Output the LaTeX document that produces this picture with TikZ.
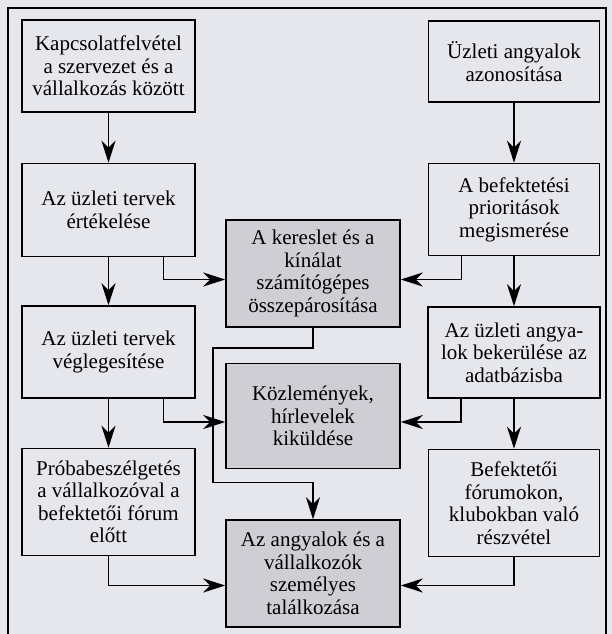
\documentclass[tikz,border=0pt]{standalone}
\usepackage{fontspec}
\setmainfont{Liberation Serif}
\usetikzlibrary{arrows.meta,positioning}
\tikzset{every picture/.style={/utils/exec={\fontsize{10.5}{11.25}\selectfont}}}
\definecolor{paper}{RGB}{230,230,237}
\definecolor{shade}{RGB}{206,206,212}

\begin{document}
\begin{tikzpicture}[node distance=25pt, line width=0.75pt]
  \tikzstyle{task} = [rectangle, minimum width=86.5pt, minimum height=46pt, text centered, align=center, draw=black]
  \tikzstyle{shaded} = [task, fill=shade, minimum width=87pt, minimum height=53.5pt]

  \tikzstyle{arrow} = [-{Stealth[length=11pt,width=7pt,inset=3.5pt]}]

  \fill [paper] (0,0) rectangle (306pt,-317pt);
  \useasboundingbox (0,0) rectangle (306pt,-317pt);
  % frame, open at the bottom
  \draw (4pt,-317pt) |- (303pt,-4pt) -- (303pt,-317pt);

  \node (l1) [task] at (54.25pt,-33pt) {Kapcsolatfelvétel\\a szervezet és a\\vállalkozás között};
  \node (l2) [task, below=of l1, minimum height=46.5pt] {Az üzleti tervek\\értékelése};
  \node (l3) [task, below=24pt of l2] {Az üzleti tervek\\véglegesítése};
  \node (l4) [task, below=24.5pt of l3, minimum height=53.5pt] {Próbabeszélgetés\\a vállalkozóval a\\befektetői fórum\\előtt};

  \node (r1) [task, minimum width=85.5pt, minimum height=40.5pt] at (257pt,-30.75pt) {Üzleti angyalok\\azonosítása};
  \node (r2) [task, minimum width=85.5pt, below=30pt of r1] {A befektetési\\prioritások\\megismerése};
  \node (r3) [task, minimum width=86pt, minimum height=45.5pt, below=of r2] {Az üzleti angya-\\lok bekerülése az\\adatbázisba};
  \node (r4) [task, minimum width=85.5pt, minimum height=53.5pt, below=of r3] {Befektetői\\fórumokon,\\klubokban való\\részvétel};

  \node (m1) [shaded] at (156.5pt,-136.75pt) {A kereslet és a\\kínálat\\számítógépes\\összepárosítása};
  \node (m2) [shaded, below=17.5pt of m1, minimum height=52.5pt] {Közlemények,\\hírlevelek\\kiküldése};
  \node (m3) [shaded, below=of m2] {Az angyalok és a\\vállalkozók\\személyes\\találkozása};

  \draw [arrow] (l1) -- (l2);
  \draw [arrow] (l2) -- (l3);
  \draw [arrow] (l3) -- (l4);
  \draw [arrow] (r1) -- (r2);
  \draw [arrow] (r2) -- (r3);
  \draw [arrow] (r3) -- (r4);

  % down, then across into the middle column
  \draw [arrow] ([xshift=-16pt]l2.south east) |- ([yshift=-3pt]m1.west);
  \draw [arrow] ([xshift=-16pt]l3.south east) |- ([yshift=-3pt]m2.west);
  \draw [arrow] (l4.south) |- ([yshift=-6pt]m3.west);
  \draw [arrow] ([xshift=17pt]r2.south west) |- ([yshift=-3pt]m1.east);
  \draw [arrow] ([xshift=17pt]r3.south west) |- ([yshift=-3pt]m2.east);
  \draw [arrow] (r4.south) |- ([yshift=-6pt]m3.east);

  % m1 to m3, round the left side of m2
  \coordinate (bendA) at ([xshift=-6pt,yshift=7.5pt]m2.north west);
  \coordinate (bendB) at ([xshift=-6pt,yshift=-6.5pt]m2.south west);
  \draw [arrow] (m1.south) |- (bendA) -- (bendB) -| (m3.north);
\end{tikzpicture}
\end{document}
